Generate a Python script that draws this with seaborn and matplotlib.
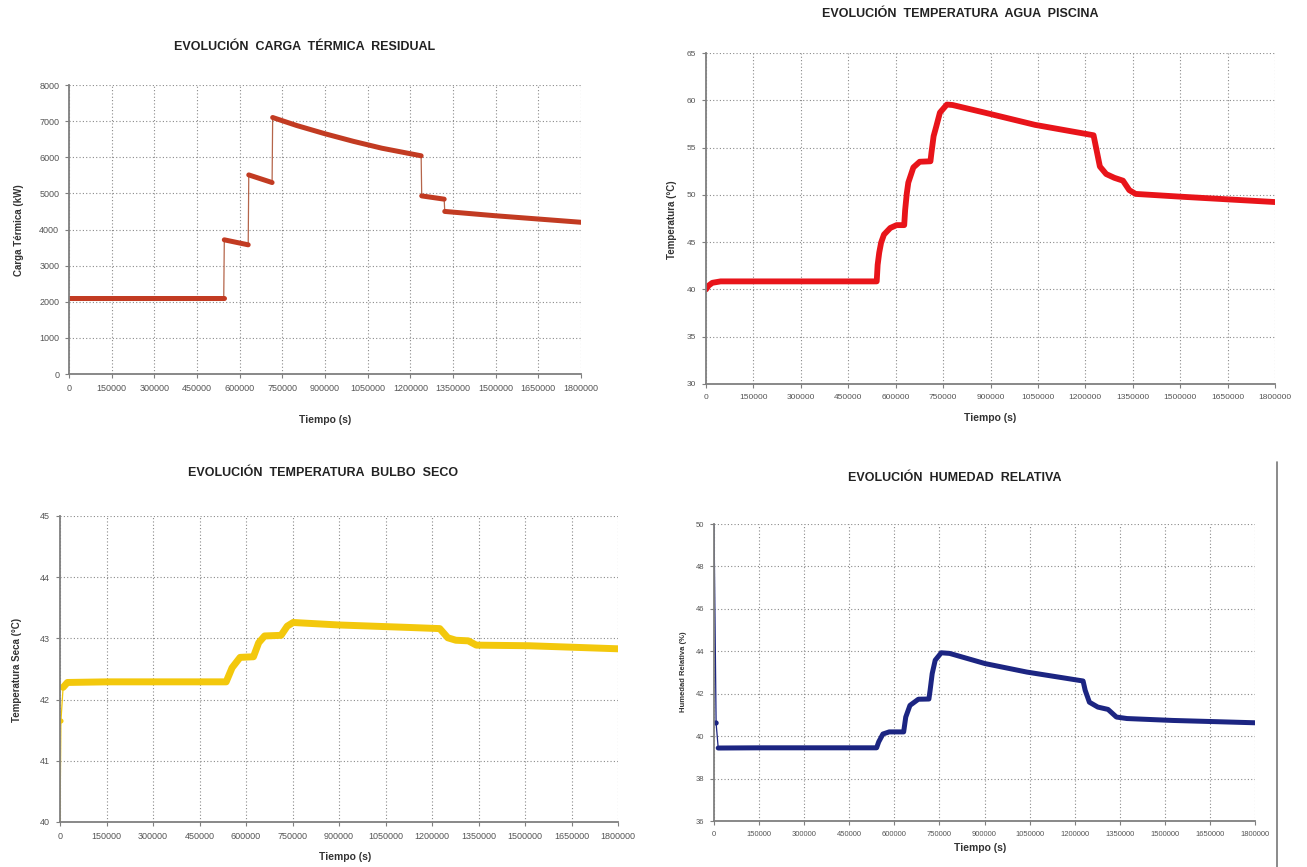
import pandas as pd
import matplotlib
matplotlib.use('Agg')
import matplotlib.pyplot as plt
import seaborn as sns
from matplotlib.lines import Line2D

sns.set_theme(style='white')
plt.rcParams['font.family'] = ['Liberation Sans', 'DejaVu Sans']

W, H = 1307, 867
time_ticks = list(range(0, 1800001, 150000))

# Carga termica residual (kW) - split into segments at the jumps
carga_t = [0, 150000, 300000, 450000, 544000,
           546000, 630000,
           632000, 714000,
           716000, 800000, 900000, 1000000, 1100000, 1238000,
           1240000, 1319000,
           1321000, 1500000, 1650000, 1800000]
carga_v = [2100, 2100, 2100, 2100, 2100,
           3714, 3576,
           5511, 5300,
           7100, 6880, 6650, 6440, 6250, 6040,
           4930, 4840,
           4500, 4380, 4290, 4200]
carga_seg = [0, 0, 0, 0, 0, 1, 1, 2, 2, 3, 3, 3, 3, 3, 3, 4, 4, 5, 5, 5, 5]

# Temperatura agua piscina (C)
agua_t = [0, 8000, 20000, 46000, 150000, 300000, 450000, 540000, 543000,
          548000, 554000, 563000, 583000, 603000, 627000, 630000, 635000,
          640000, 656000, 676000, 710000, 713000, 720000, 729000, 740000,
          762000, 780000, 881000, 1041000, 1226000, 1233000, 1246000,
          1266000, 1292000, 1319000, 1339000, 1359000, 1505000, 1800000]
agua_v = [40.0, 40.4, 40.7, 40.85, 40.85, 40.85, 40.85, 40.85, 42.6,
          43.9, 44.95, 45.8, 46.5, 46.8, 46.8, 48.4, 50.1,
          51.3, 52.9, 53.5, 53.55, 54.4, 56.2, 57.3, 58.7,
          59.55, 59.5, 58.7, 57.4, 56.3, 55.15, 53.0,
          52.2, 51.8, 51.5, 50.5, 50.1, 49.8, 49.24]
agua_seg = [0] * len(agua_t)

# Temperatura bulbo seco (C); -1 = start-up points drawn only as thin line
seco_t = [0, 3000, 10000, 24000, 150000, 300000, 450000, 536000, 555000,
          581000, 624000, 641000, 660000, 713000, 733000, 752000, 897000,
          1120000, 1225000, 1251000, 1277000, 1317000, 1343000, 1513000,
          1800000]
seco_v = [40.0, 41.65, 42.2, 42.28, 42.29, 42.29, 42.29, 42.29, 42.52,
          42.69, 42.7, 42.93, 43.04, 43.05, 43.2, 43.26, 43.22,
          43.18, 43.16, 43.01, 42.97, 42.96, 42.89, 42.88,
          42.83]
seco_seg = [-1, -1] + [0] * 23

# Humedad relativa (%)
hum_t = [0, 7000, 14000, 150000, 300000, 450000, 541000, 548000, 562000,
         583000, 631000, 638000, 652000, 680000, 715000, 719000, 726000,
         736000, 756000, 784000, 902000, 1041000, 1228000, 1235000,
         1249000, 1277000, 1311000, 1339000, 1374000, 1526000, 1800000]
hum_v = [50.0, 40.62, 39.44, 39.45, 39.45, 39.45, 39.45, 39.73, 40.1,
         40.2, 40.2, 40.9, 41.45, 41.74, 41.75, 42.16, 42.95,
         43.58, 43.93, 43.9, 43.42, 43.02, 42.6, 42.16,
         41.6, 41.37, 41.26, 40.9, 40.83, 40.74, 40.63]
hum_seg = [-1, -1] + [0] * 29

fig = plt.figure(figsize=(W / 100, H / 100), dpi=100)
fig.patch.set_facecolor('white')


def px_axes(left, right, top, bottom):
    return fig.add_axes([left / W, 1 - bottom / H, (right - left) / W, (bottom - top) / H])


def draw_panel(box, t, v, seg, color, thin_color, lw, yticks, title, title_xy,
               ylabel, ylabel_xy, xlabel_xy, tick_size=6.5, ylab_size=7):
    ax = px_axes(*box)
    df = pd.DataFrame({'t': t, 'v': v, 'seg': seg})
    sns.lineplot(data=df, x='t', y='v', color=thin_color, lw=0.9,
                 sort=False, estimator=None, ax=ax)
    thick = df[df['seg'] >= 0]
    sns.lineplot(data=thick, x='t', y='v', units='seg', estimator=None,
                 color=color, lw=lw, sort=False, ax=ax,
                 solid_capstyle='round', solid_joinstyle='round')
    start = df[df['seg'] < 0]
    if len(start):
        sns.scatterplot(data=start.iloc[1:], x='t', y='v', color=color,
                        s=14, edgecolor='none', ax=ax)
    ax.set_xlim(0, 1800000)
    ax.set_ylim(yticks[0], yticks[-1])
    ax.set_xticks(time_ticks)
    ax.set_xticklabels([str(x) for x in time_ticks])
    ax.set_yticks(yticks)
    ax.set_yticklabels([str(y) for y in yticks])
    ax.set_xlabel('')
    ax.set_ylabel('')
    ax.grid(True, color='#8a8a8a', lw=0.8, linestyle=(0, (1, 2)))
    for s in ['top', 'right']:
        ax.spines[s].set_visible(False)
    for s in ['left', 'bottom']:
        ax.spines[s].set_color('#7f7f7f')
        ax.spines[s].set_linewidth(1.3)
    ax.tick_params(axis='both', which='both', direction='out', length=3,
                   width=0.8, color='#7f7f7f', labelsize=tick_size,
                   labelcolor='#555555', pad=4, bottom=True, left=True)
    fig.text(title_xy[0] / W, 1 - title_xy[1] / H, title, ha='center',
             va='center', fontsize=9, fontweight='bold', color='#222222')
    fig.text(ylabel_xy[0] / W, 1 - ylabel_xy[1] / H, ylabel, ha='center',
             va='center', rotation=90, fontsize=ylab_size, fontweight='bold',
             color='#333333')
    fig.text(xlabel_xy[0] / W, 1 - xlabel_xy[1] / H, 'Tiempo (s)', ha='center',
             va='center', fontsize=7.5, fontweight='bold', color='#333333')
    return ax


draw_panel((69, 581, 85, 374), carga_t, carga_v, carga_seg,
           '#c23b22', '#b5654a', 3.6, list(range(0, 8001, 1000)),
           'EVOLUCIÓN  CARGA  TÉRMICA  RESIDUAL', (305, 47),
           'Carga Térmica (kW)', (19, 230), (325, 420))

draw_panel((706, 1275, 53, 384), agua_t, agua_v, agua_seg,
           '#e8141a', '#e8141a', 4.2, list(range(30, 66, 5)),
           'EVOLUCIÓN  TEMPERATURA  AGUA  PISCINA', (960, 14),
           'Temperatura (°C)', (672, 220), (990, 418), tick_size=6)

draw_panel((60, 618, 516, 822), seco_t, seco_v, seco_seg,
           '#f3c80c', '#f3c80c', 5.0, list(range(40, 46)),
           'EVOLUCIÓN  TEMPERATURA  BULBO  SECO', (323, 473),
           'Temperatura Seca (°C)', (17, 670), (345, 857))

draw_panel((714, 1255, 524, 821), hum_t, hum_v, hum_seg,
           '#1c2582', '#1c2582', 3.6, list(range(36, 51, 2)),
           'EVOLUCIÓN  HUMEDAD  RELATIVA', (955, 478),
           'Humedad Relativa (%)', (683, 672), (980, 848),
           tick_size=5.5, ylab_size=5.5)

fig.add_artist(Line2D([1277 / W, 1277 / W], [0, 1 - 462 / H],
                      color='#777777', lw=1.2, transform=fig.transFigure))

fig.savefig('out.png', dpi=100, facecolor='white')
